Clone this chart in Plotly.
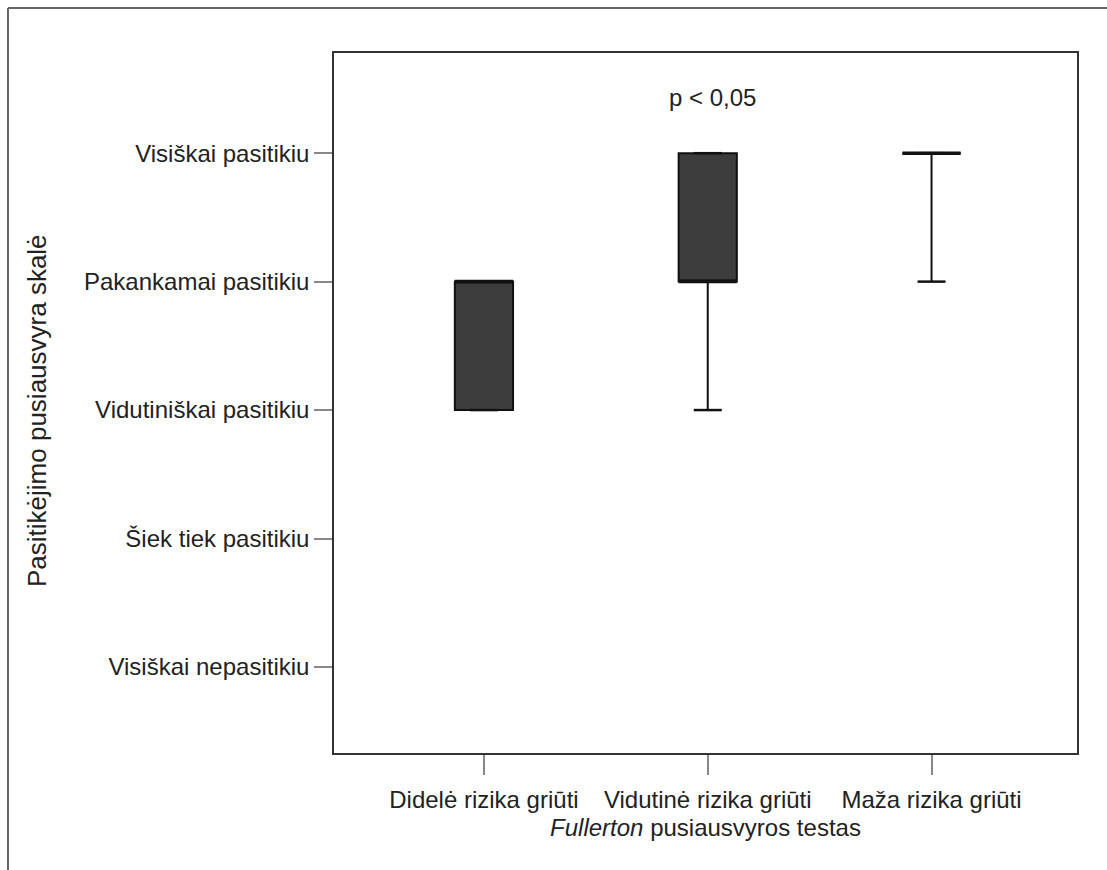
import plotly.graph_objects as go

# Fullerton balance test groups (x) and balance-confidence scale (y)
categories = ["Didelė rizika griūti", "Vidutinė rizika griūti", "Maža rizika griūti"]
positions = [0, 1, 2]
scale_labels = ["Visiškai nepasitikiu", "Šiek tiek pasitikiu", "Vidutiniškai pasitikiu",
                "Pakankamai pasitikiu", "Visiškai pasitikiu"]
scale_values = [1, 2, 3, 4, 5]

# Box statistics per group
q1 = [3, 4, 5]
median = [4, 4, 5]
q3 = [4, 5, 5]
lower = [3, 3, 4]
upper = [4, 5, 5]

BOX_W = 0.26
CAP_W = 0.125
FONT = "Liberation Sans, Arial, sans-serif"
FS = 24

fig = go.Figure()

fig.add_trace(go.Box(
    x=positions, q1=q1, median=median, q3=q3,
    lowerfence=lower, upperfence=upper,
    width=BOX_W, fillcolor="#3c3c3c",
    line=dict(color="#111111", width=2),
    whiskerwidth=0, boxpoints=False, showlegend=False, hoverinfo="skip",
))

# Whisker caps and heavy median lines
cap_x, cap_y, med_x, med_y = [], [], [], []
for p, lo, hi, m in zip(positions, lower, upper, median):
    for v in (lo, hi):
        cap_x += [p - CAP_W / 2, p + CAP_W / 2, None]
        cap_y += [v, v, None]
    med_x += [p - BOX_W / 2, p + BOX_W / 2, None]
    med_y += [m, m, None]

fig.add_trace(go.Scatter(x=cap_x, y=cap_y, mode="lines",
                         line=dict(color="#111111", width=2.5),
                         showlegend=False, hoverinfo="skip"))
fig.add_trace(go.Scatter(x=med_x, y=med_y, mode="lines",
                         line=dict(color="#111111", width=3.5),
                         showlegend=False, hoverinfo="skip"))

fig.add_annotation(x=1.02, y=5.43, text="p < 0,05", showarrow=False,
                   font=dict(size=FS, color="#222222", family=FONT))

# Y-axis title
fig.add_annotation(xref="paper", yref="paper", x=-0.3997, y=0.4886,
                   text="Pasitikėjimo pusiausvyra skalė", textangle=-90,
                   showarrow=False, xanchor="center", yanchor="middle",
                   font=dict(size=26, color="#222222", family=FONT))

# Outer figure frame (top and left edges)
fig.add_shape(type="line", xref="paper", yref="paper",
              x0=-0.4388, x1=1.05, y0=1.0643, y1=1.0643,
              line=dict(color="#666666", width=2))
fig.add_shape(type="line", xref="paper", yref="paper",
              x0=-0.4388, x1=-0.4388, y0=1.0643, y1=-0.2,
              line=dict(color="#666666", width=2))

fig.update_layout(
    width=1107, height=870,
    margin=dict(l=334, r=30, t=53, b=117),
    paper_bgcolor="white", plot_bgcolor="white",
    font=dict(family=FONT, size=FS, color="#222222"),
    xaxis=dict(
        range=[-0.67, 2.65], tickvals=positions, ticktext=categories,
        ticks="outside", ticklen=20, tickcolor="#888888", tickwidth=1.5,
        ticklabelstandoff=4,
        showline=True, linecolor="#333333", linewidth=1.5, mirror=True,
        showgrid=False, zeroline=False,
        title=dict(text="<i>Fullerton</i> pusiausvyros testas", standoff=8,
                   font=dict(size=FS)),
    ),
    yaxis=dict(
        range=[0.33, 5.78], tickvals=scale_values, ticktext=scale_labels,
        ticks="outside", ticklen=18, tickcolor="#888888", tickwidth=1.5,
        showline=True, linecolor="#333333", linewidth=1.5, mirror=True,
        showgrid=False, zeroline=False,
    ),
)

fig.write_html("out.html")
